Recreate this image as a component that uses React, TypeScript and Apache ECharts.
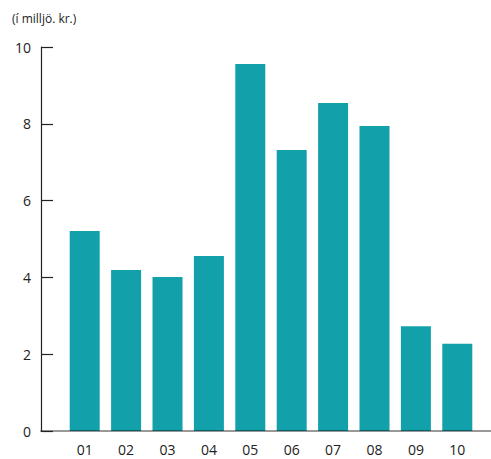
import React, { useEffect, useRef } from "react";
import * as echarts from "echarts";

const categories = ["01", "02", "03", "04", "05", "06", "07", "08", "09", "10"];
const values = [5.21, 4.19, 4.01, 4.56, 9.56, 7.32, 8.54, 7.94, 2.73, 2.27];
const unitLabel = "(í milljö. kr.)";

export default function App() {
  const ref = useRef<HTMLDivElement>(null);
  useEffect(() => {
    if (!ref.current) return;
    const chart = echarts.init(ref.current, null, { renderer: "svg" });
    const font = "'Open Sans', 'Noto Sans', sans-serif";
    chart.setOption({
      animation: false,
      backgroundColor: "#ffffff",
      textStyle: { fontFamily: font },
      title: {
        text: unitLabel,
        left: 7,
        top: 7,
        textStyle: { fontSize: 12, fontWeight: "normal", color: "#222", fontFamily: font },
      },
      grid: [
        { left: 64, right: 13, top: 47, bottom: 28 },
        { left: 41, right: 0, top: 47, bottom: 28 },
      ],
      xAxis: [
        {
          type: "category",
          gridIndex: 0,
          data: categories,
          axisLine: { show: false },
          axisTick: { show: false },
          axisLabel: { color: "#222", fontSize: 14, margin: 11, fontFamily: font },
        },
        {
          type: "value",
          gridIndex: 1,
          min: 0,
          max: 1,
          z: 10,
          axisLine: { show: true, lineStyle: { color: "rgba(0,0,0,0.4)", width: 2 } },
          axisTick: { show: false },
          axisLabel: { show: false },
          splitLine: { show: false },
        },
      ],
      yAxis: [
        {
          type: "value",
          gridIndex: 0,
          min: 0,
          max: 10,
          interval: 2,
          show: false,
        },
        {
          type: "value",
          gridIndex: 1,
          min: 0,
          max: 10,
          interval: 2,
          z: 11,
          axisLine: { show: true, lineStyle: { color: "#222", width: 1.2 } },
          axisTick: { show: true, inside: true, length: 12, lineStyle: { color: "#222", width: 1.2 } },
          axisLabel: { color: "#222", fontSize: 14, margin: 10, fontFamily: font },
          splitLine: { show: false },
        },
      ],
      series: [
        {
          type: "bar",
          xAxisIndex: 0,
          yAxisIndex: 0,
          data: values,
          barWidth: 30,
          itemStyle: { color: "#12a0ab" },
        },
      ],
    });
    return () => chart.dispose();
  }, []);
  return (
    <div
      ref={ref}
      style={{ position: "absolute", left: 0, top: 0, width: 491, height: 459 }}
    />
  );
}
